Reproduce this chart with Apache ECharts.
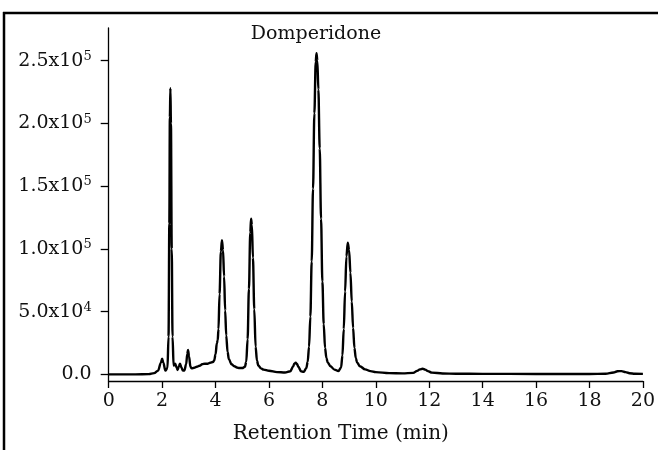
<!DOCTYPE html>
<html>
<head>
<meta charset="utf-8">
<script src="https://cdn.jsdelivr.net/npm/echarts@6/dist/echarts.min.js"></script>
<style>
html,body{margin:0;padding:0;background:#fff;}
#chart{width:658px;height:450px;}
</style>
</head>
<body>
<div id="chart"></div>
<script>
// Retention time (min)
var times = [0, 1.0, 1.5, 1.7, 1.85, 1.95, 2.0, 2.05, 2.12, 2.2, 2.24, 2.27, 2.29, 2.31, 2.33, 2.36, 2.39, 2.43, 2.49, 2.54, 2.58, 2.63, 2.67, 2.72, 2.78, 2.83, 2.9, 2.94, 2.97, 3.01, 3.06, 3.1, 3.2, 3.3, 3.4, 3.5, 3.6, 3.7, 3.8, 3.9, 3.95, 4.0, 4.05, 4.08, 4.11, 4.15, 4.2, 4.24, 4.28, 4.32, 4.36, 4.4, 4.45, 4.5, 4.6, 4.7, 4.8, 4.9, 5.0, 5.1, 5.15, 5.2, 5.25, 5.3, 5.33, 5.36, 5.4, 5.45, 5.5, 5.55, 5.6, 5.7, 5.8, 6.0, 6.3, 6.6, 6.8, 6.9, 6.95, 7.0, 7.05, 7.1, 7.2, 7.3, 7.4, 7.45, 7.5, 7.55, 7.6, 7.65, 7.7, 7.75, 7.78, 7.81, 7.85, 7.9, 7.95, 8.0, 8.05, 8.1, 8.15, 8.2, 8.3, 8.45, 8.6, 8.7, 8.75, 8.8, 8.85, 8.9, 8.95, 9.0, 9.05, 9.1, 9.15, 9.2, 9.25, 9.3, 9.4, 9.6, 9.8, 10.0, 10.5, 11.0, 11.4, 11.55, 11.65, 11.75, 11.85, 11.95, 12.1, 12.5, 13.0, 14, 16, 18, 18.6, 18.9, 19.05, 19.2, 19.35, 19.5, 19.7, 20];
// Detector response
var intensity = [0, 0, 200, 1000, 3000, 9000, 12500, 9000, 3000, 5000, 30000, 120000, 205000, 228000, 200000, 100000, 30000, 7000, 8500, 5500, 3500, 6500, 8500, 5500, 3000, 3000, 8000, 16000, 19500, 14000, 6000, 4800, 5200, 6000, 6800, 8000, 8500, 8500, 9200, 9800, 11000, 16000, 25000, 27000, 36000, 64000, 98000, 107000, 99000, 78000, 51000, 31000, 18000, 12000, 8000, 6500, 5500, 5000, 5000, 6000, 10000, 28000, 68000, 113000, 124000, 119000, 93000, 52000, 22000, 11000, 7000, 4800, 3800, 2900, 1800, 1500, 2500, 6000, 8500, 9300, 8200, 6000, 2500, 2000, 5000, 10000, 22000, 46000, 90000, 148000, 208000, 249000, 256000, 250000, 227000, 180000, 124000, 74000, 40000, 21000, 13000, 9500, 6500, 3800, 2600, 5500, 15000, 36000, 66000, 94000, 105000, 99000, 81000, 58000, 37000, 21000, 13000, 9500, 6500, 4000, 2600, 1800, 1000, 800, 1200, 2800, 4000, 4500, 3800, 2600, 1400, 700, 500, 400, 300, 300, 500, 1500, 2500, 2600, 1800, 900, 500, 400];
var yTickValues = [0, 50000, 100000, 150000, 200000, 250000];
var yTickLabels = ['0.0', '5.0x10{s|4}', '1.0x10{s|5}', '1.5x10{s|5}', '2.0x10{s|5}', '2.5x10{s|5}'];
var xTickLabels = ['0','2','4','6','8','10','12','14','16','18','20'];
var titleText = 'Domperidone';
var xName = 'Retention Time (min)';

var FONT = 'DejaVu Serif';
var data = times.map(function (t, i) { return [t, intensity[i]]; });

var chart = echarts.init(document.getElementById('chart'), null, {renderer: 'canvas'});
chart.setOption({
  backgroundColor: '#fff',
  animation: false,
  title: {
    text: titleText,
    left: 316, top: 25, textAlign: 'center', padding: 0,
    textStyle: {fontFamily: FONT, fontSize: 19, fontWeight: 'normal', color: '#111'}
  },
  grid: {left: 108.7, right: 10, top: 28, bottom: 69, containLabel: false},
  xAxis: {
    type: 'value', min: 0, max: 20, interval: 2,
    name: xName, nameLocation: 'middle', nameGap: 43,
    nameTextStyle: {fontFamily: FONT, fontSize: 20, color: '#111', padding: [0, 70, 0, 0]},
    axisLine: {show: true, onZero: false, lineStyle: {color: '#000', width: 1.3}},
    axisTick: {show: true, inside: false, length: 7, lineStyle: {color: '#000', width: 1.3}},
    axisLabel: {
      fontFamily: FONT, fontSize: 19, color: '#111', margin: 11,
      formatter: function (v) { var i = Math.round(v / 2); return xTickLabels[i] !== undefined ? xTickLabels[i] : ''; }
    },
    splitLine: {show: false}
  },
  yAxis: {
    type: 'value', min: -5300, max: 276000,
    axisLine: {show: true, onZero: false, lineStyle: {color: '#000', width: 1.3}},
    axisTick: {show: true, inside: false, length: 8, customValues: yTickValues, lineStyle: {color: '#000', width: 1.3}},
    axisLabel: {
      customValues: yTickValues, margin: 17,
      fontFamily: FONT, fontSize: 19, color: '#111',
      formatter: function (v) { var i = yTickValues.indexOf(v); return i >= 0 ? yTickLabels[i] : ''; },
      rich: {
        s: {fontFamily: FONT, fontSize: 13, color: '#111', verticalAlign: 'top', padding: [0, 0, 8, 0]}
      }
    },
    splitLine: {show: false}
  },
  graphic: [
    {type: 'line', shape: {x1: 3, y1: 13, x2: 658, y2: 13}, style: {stroke: '#000', lineWidth: 2.5}, silent: true},
    {type: 'line', shape: {x1: 4, y1: 12, x2: 4, y2: 450}, style: {stroke: '#000', lineWidth: 2.5}, silent: true}
  ],
  series: [{
    type: 'line', data: data, showSymbol: false,
    smooth: 0.35, smoothMonotone: 'x',
    lineStyle: {color: '#000', width: 2.4},
    z: 3
  }]
});
</script>
</body>
</html>
